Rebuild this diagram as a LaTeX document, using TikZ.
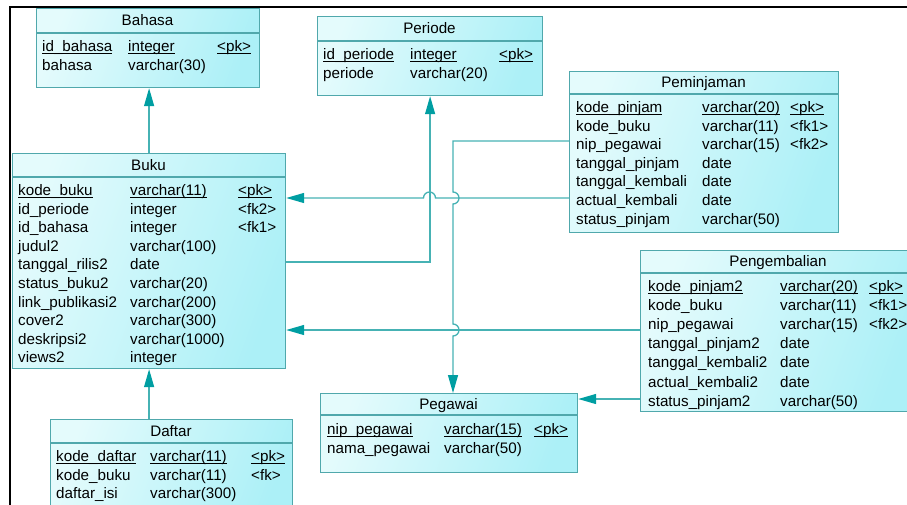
\documentclass[tikz,border=0pt]{standalone}
\usepackage{fontspec}
\setmainfont{Liberation Sans}
\usetikzlibrary{arrows.meta}
\definecolor{tealline}{RGB}{70,178,180}
\definecolor{tealarrow}{RGB}{0,158,162}
\definecolor{boxedge}{RGB}{80,168,172}
\definecolor{boxlight}{RGB}{228,251,252}
\definecolor{boxdark}{RGB}{172,240,247}
\tikzstyle{entity} = [draw=boxedge, line width=1.2pt, left color=boxlight, right color=boxdark, shading angle=70, anchor=north west, inner sep=0pt]
\tikzstyle{sepline} = [draw=boxedge, line width=1.2pt]
\tikzstyle{title} = [anchor=base, inner sep=0pt, font=\fontsize{15.2}{18}\selectfont]
\tikzstyle{field} = [anchor=base west, inner sep=0pt, font=\fontsize{15.2}{18}\selectfont]
\tikzstyle{link} = [draw=tealline, line width=1.3pt, -{Triangle[length=18pt,width=10pt,color=tealarrow]}]
\newcommand{\pkul}[1]{\setbox0=\hbox{#1}\rlap{\rule[-2.6pt]{\wd0}{1pt}}\box0}

\begin{document}
\begin{tikzpicture}[x=1pt, y=-1pt]
    \useasboundingbox (0,0) rectangle (907,504);
    \clip (0,0) rectangle (907,504);
    \draw[line width=2pt] (10,520) -- (10,7) -- (920,7);

    % Bahasa
    \node[entity, minimum width=223, minimum height=79] (bahasa) at (36,8) {};
    \draw[sepline] (bahasa.west |- 0,33) -- (bahasa.east |- 0,33);
    \node[title] (bahasaT) at (147.5,25.5) {Bahasa};
    \foreach \n/\t/\k [count=\i] in {\pkul{id\_bahasa}/\pkul{integer}/\pkul{<pk>}, bahasa/varchar(30)/{}} {
      \node[field] at (42,{51.5+(\i-1)*18.6}) {\n};
      \node[field] at (128,{51.5+(\i-1)*18.6}) {\t};
      \node[field] at (217,{51.5+(\i-1)*18.6}) {\k};
    }

    % Periode
    \node[entity, minimum width=225, minimum height=79] (periode) at (317,16) {};
    \draw[sepline] (periode.west |- 0,41) -- (periode.east |- 0,41);
    \node[title] (periodeT) at (429.5,33.5) {Periode};
    \foreach \n/\t/\k [count=\i] in {\pkul{id\_periode}/\pkul{integer}/\pkul{<pk>}, periode/varchar(20)/{}} {
      \node[field] at (323,{59.5+(\i-1)*18.6}) {\n};
      \node[field] at (410,{59.5+(\i-1)*18.6}) {\t};
      \node[field] at (499,{59.5+(\i-1)*18.6}) {\k};
    }

    % Peminjaman
    \node[entity, minimum width=269, minimum height=161] (peminjaman) at (569,71) {};
    \draw[sepline] (peminjaman.west |- 0,94) -- (peminjaman.east |- 0,94);
    \node[title] (peminjamanT) at (703.5,87.5) {Peminjaman};
    \foreach \n/\t/\k [count=\i] in {\pkul{kode\_pinjam}/\pkul{varchar(20)}/\pkul{<pk>}, kode\_buku/varchar(11)/<fk1>, nip\_pegawai/varchar(15)/<fk2>, tanggal\_pinjam/date/{}, tanggal\_kembali/date/{}, actual\_kembali/date/{}, status\_pinjam/varchar(50)/{}} {
      \node[field] at (576,{112.5+(\i-1)*18.6}) {\n};
      \node[field] at (702,{112.5+(\i-1)*18.6}) {\t};
      \node[field] at (790,{112.5+(\i-1)*18.6}) {\k};
    }

    % Buku
    \node[entity, minimum width=273, minimum height=215] (buku) at (12,153) {};
    \draw[sepline] (buku.west |- 0,177) -- (buku.east |- 0,177);
    \node[title] (bukuT) at (148.5,170) {Buku};
    \foreach \n/\t/\k [count=\i] in {\pkul{kode\_buku}/\pkul{varchar(11)}/\pkul{<pk>}, id\_periode/integer/<fk2>, id\_bahasa/integer/<fk1>, judul2/varchar(100)/{}, tanggal\_rilis2/date/{}, status\_buku2/varchar(20)/{}, link\_publikasi2/varchar(200)/{}, cover2/varchar(300)/{}, deskripsi2/varchar(1000)/{}, views2/integer/{}} {
      \node[field] at (18,{195.5+(\i-1)*18.6}) {\n};
      \node[field] at (130,{195.5+(\i-1)*18.6}) {\t};
      \node[field] at (238,{195.5+(\i-1)*18.6}) {\k};
    }

    % Pengembalian
    \node[entity, minimum width=276, minimum height=161] (pengembalian) at (640,250) {};
    \draw[sepline] (pengembalian.west |- 0,273) -- (pengembalian.east |- 0,273);
    \node[title] (pengembalianT) at (778,266.5) {Pengembalian};
    \foreach \n/\t/\k [count=\i] in {\pkul{kode\_pinjam2}/\pkul{varchar(20)}/\pkul{<pk>}, kode\_buku/varchar(11)/<fk1>, nip\_pegawai/varchar(15)/<fk2>, tanggal\_pinjam2/date/{}, tanggal\_kembali2/date/{}, actual\_kembali2/date/{}, status\_pinjam2/varchar(50)/{}} {
      \node[field] at (648,{291.5+(\i-1)*19.1}) {\n};
      \node[field] at (780,{291.5+(\i-1)*19.1}) {\t};
      \node[field] at (869,{291.5+(\i-1)*19.1}) {\k};
    }

    % Pegawai
    \node[entity, minimum width=257, minimum height=79] (pegawai) at (320,393) {};
    \draw[sepline] (pegawai.west |- 0,415) -- (pegawai.east |- 0,415);
    \node[title] (pegawaiT) at (448.5,409) {Pegawai};
    \foreach \n/\t/\k [count=\i] in {\pkul{nip\_pegawai}/\pkul{varchar(15)}/\pkul{<pk>}, nama\_pegawai/varchar(50)/{}} {
      \node[field] at (327,{434.5+(\i-1)*18.6}) {\n};
      \node[field] at (444,{434.5+(\i-1)*18.6}) {\t};
      \node[field] at (534,{434.5+(\i-1)*18.6}) {\k};
    }

    % Daftar
    \node[entity, minimum width=242, minimum height=100] (daftar) at (50,419) {};
    \draw[sepline] (daftar.west |- 0,443) -- (daftar.east |- 0,443);
    \node[title] (daftarT) at (171,436) {Daftar};
    \foreach \n/\t/\k [count=\i] in {\pkul{kode\_daftar}/\pkul{varchar(11)}/\pkul{<pk>}, kode\_buku/varchar(11)/<fk>, daftar\_isi/varchar(300)/{}} {
      \node[field] at (56,{461.5+(\i-1)*18.6}) {\n};
      \node[field] at (150,{461.5+(\i-1)*18.6}) {\t};
      \node[field] at (251,{461.5+(\i-1)*18.6}) {\k};
    }

    % references
    \draw[link] (buku.north) -- (buku.north |- bahasa.south);
    \draw[link] (buku.south |- daftar.north) -- (buku.south);
    \draw[link] (buku.east |- 0,262) -| (periode.south);
    \draw[link] (peminjaman.west |- 0,198) -- (435.5,198) arc[start angle=0, end angle=180, radius=6pt] -- (buku.east |- 0,198);
    \draw[link] (pengembalian.west |- 0,330) -- (buku.east |- 0,330);
    \draw[link] (pengembalian.west |- 0,399) -- (pegawai.east |- 0,399);
    \draw[link] (peminjaman.west |- 0,141) -- (453,141) -- (453,192) arc[start angle=90, end angle=-90, radius=6pt] -- (453,324) arc[start angle=90, end angle=-90, radius=6pt] -- (pegawai.north -| 453,0);
\end{tikzpicture}
\end{document}
